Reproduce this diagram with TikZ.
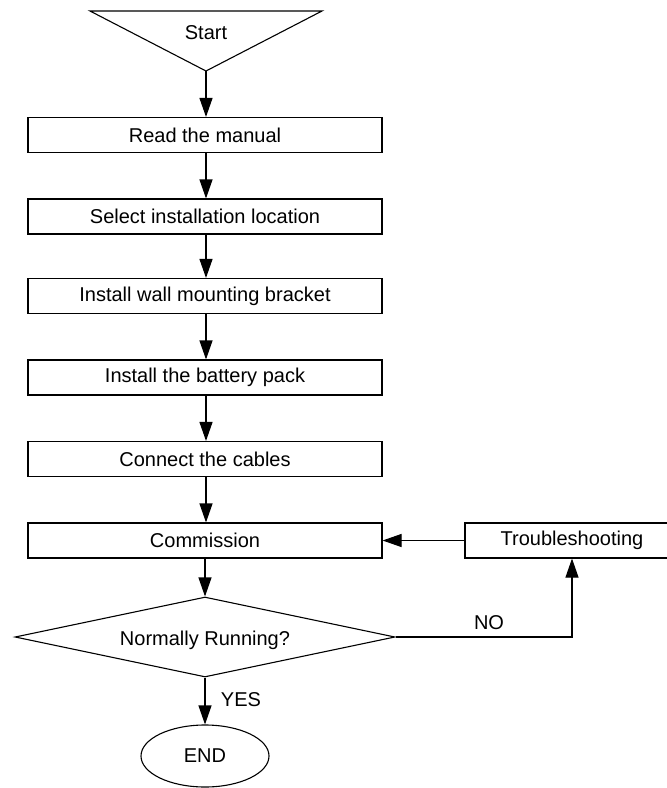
\documentclass[tikz,border=0pt]{standalone}
\usepackage{fontspec}
\setmainfont{Liberation Sans}
\usetikzlibrary{arrows.meta,shapes.geometric}
\begin{document}
\begin{tikzpicture}[x=1pt,y=-1pt,line width=1.1pt,
  every node/.style={font=\fontsize{20}{24}\selectfont},
  stepbox/.style={draw,rectangle,minimum width=354pt,minimum height=35pt,inner sep=0pt},
  arr/.style={-{Triangle[length=19pt,width=13pt]}},
  lbl/.style={inner sep=0pt}]
\clip (0,0) rectangle (667,788);
\fill[white] (0,0) rectangle (667,788);
% start triangle
\coordinate (tl) at (90,11);
\coordinate (tr) at (322,11);
\coordinate (apex) at (206,71);
\draw (tl) -- (tr) -- (apex) -- cycle;
\node[lbl] (start) at (206,33) {Start};
% boxes
\node[stepbox] (b1) at (205,135) {Read the manual};
\node[stepbox] (b2) at (205,216.5) {Select installation location};
\node[stepbox] (b3) at (205,296) {Install wall mounting bracket};
\node[stepbox] (b4) at (205,377.5) {Install the battery pack};
\node[stepbox] (b5) at (205,459) {Connect the cables};
\node[stepbox] (comm) at (205,540.5) {Commission};
\node[draw,rectangle,minimum width=214pt,minimum height=35pt,inner sep=0pt] (trbl) at (572,540.5) {Troubleshooting};
\node[draw,diamond,aspect=4.75,minimum width=380pt,minimum height=80pt,inner sep=0pt] (dec) at (205,637) {};
\node[lbl] (dectext) at (205,640) {Normally Running?};
\node[draw,ellipse,minimum width=128pt,minimum height=62pt,inner sep=0pt] (end) at (205,756) {END};
% connectors
\draw[arr] (apex) -- (b1.north -| apex);
\draw[arr] (b1.south -| apex) -- (b2.north -| apex);
\draw[arr] (b2.south -| apex) -- (b3.north -| apex);
\draw[arr] (b3.south -| apex) -- (b4.north -| apex);
\draw[arr] (b4.south -| apex) -- (b5.north -| apex);
\draw[arr] (b5.south -| apex) -- (comm.north -| apex);
\draw[arr] (comm.south) -- (dec.north);
\draw[arr] (trbl.west) -- (comm.east);
\draw[arr] (dec.east) -- (trbl.south |- dec.east) -- (trbl.south);
\draw[arr] (dec.south) -- (end.north);
\node[lbl] (no) at (489,623) {NO};
\node[lbl] (yes) at (241,700) {YES};
\end{tikzpicture}
\end{document}
